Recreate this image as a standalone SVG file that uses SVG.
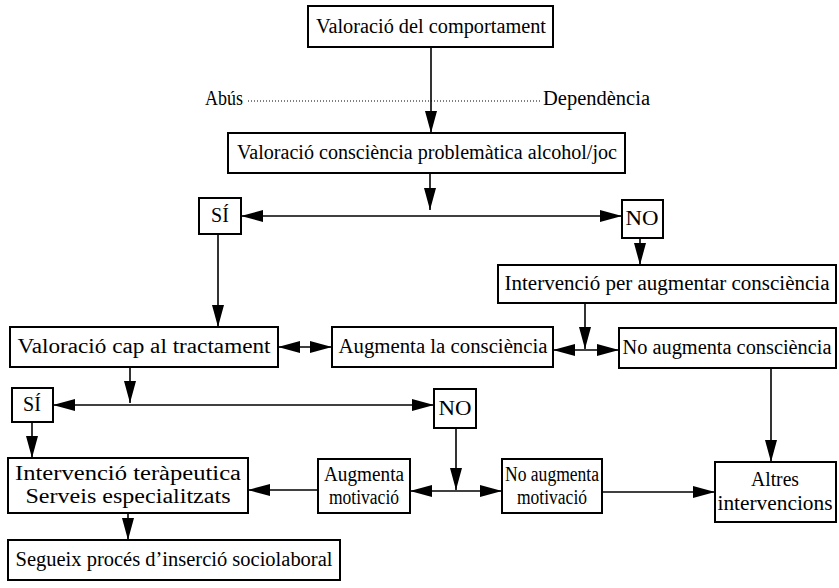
<svg xmlns="http://www.w3.org/2000/svg" width="839" height="588" viewBox="0 0 839 588">
  <style>
    .box { fill: #fff; stroke: #000; stroke-width: 2; }
    .lbl { font-family: "Liberation Serif", "Times New Roman", serif; font-size: 20px; fill: #000; text-anchor: middle; }
    .side { font-family: "Liberation Serif", "Times New Roman", serif; font-size: 20px; fill: #000; }
    .wire { fill: none; stroke: #000; stroke-width: 1.6; }
    .one { marker-end: url(#ah); }
    .two { marker-start: url(#ah); marker-end: url(#ah); }
  </style>
  <defs>
    <marker id="ah" viewBox="0 0 22 12" refX="22" refY="6" markerWidth="22" markerHeight="12" markerUnits="userSpaceOnUse" orient="auto-start-reverse">
      <path d="M0,0 L22,6 L0,12 Z" fill="#000"/>
    </marker>
  </defs>
  <rect width="839" height="588" fill="#fff"/>

  <!-- connectors -->
  <g id="connectors">
    <line class="wire one" x1="431" y1="47" x2="431" y2="133"/>
    <line x1="248" y1="101" x2="540" y2="101" stroke="#000" stroke-width="1" stroke-dasharray="1 2"/>
    <line class="wire one" x1="430" y1="173" x2="430" y2="210"/>
    <line class="wire two" x1="241" y1="216" x2="622" y2="216"/>
    <line class="wire one" x1="640" y1="238" x2="640" y2="265"/>
    <line class="wire one" x1="218" y1="234" x2="218" y2="327"/>
    <line class="wire two" x1="278" y1="347" x2="332" y2="347"/>
    <line class="wire one" x1="585" y1="303" x2="585" y2="349"/>
    <line class="wire two" x1="553" y1="350" x2="619" y2="350"/>
    <line class="wire one" x1="130" y1="367" x2="130" y2="403"/>
    <line class="wire two" x1="53" y1="405" x2="434" y2="405"/>
    <line class="wire one" x1="32" y1="422" x2="32" y2="458"/>
    <line class="wire one" x1="456" y1="428" x2="456" y2="490"/>
    <line class="wire two" x1="410" y1="491" x2="502" y2="491"/>
    <line class="wire one" x1="318" y1="490" x2="248" y2="490"/>
    <line class="wire one" x1="602" y1="492" x2="715" y2="492"/>
    <line class="wire one" x1="771" y1="368" x2="771" y2="462"/>
    <line class="wire one" x1="128" y1="513" x2="128" y2="540"/>
  </g>

  <!-- scale labels -->
  <g id="scale">
    <text class="side" x="205" y="105" textLength="38" lengthAdjust="spacingAndGlyphs">Abús</text>
    <text class="side" x="543" y="105" textLength="107" lengthAdjust="spacingAndGlyphs">Dependència</text>
  </g>

  <g id="n-comportament">
    <rect class="box" x="308" y="6" width="245" height="41"/>
    <text class="lbl" x="431" y="33" textLength="230" lengthAdjust="spacingAndGlyphs">Valoració del comportament</text>
  </g>
  <g id="n-consciencia">
    <rect class="box" x="228" y="133" width="397" height="40"/>
    <text class="lbl" x="427" y="159" textLength="380" lengthAdjust="spacingAndGlyphs">Valoració consciència problemàtica alcohol/joc</text>
  </g>
  <g id="n-si1">
    <rect class="box" x="199" y="198" width="42" height="36"/>
    <text class="lbl" x="220" y="222">SÍ</text>
  </g>
  <g id="n-no1">
    <rect class="box" x="622" y="200" width="41" height="38"/>
    <text class="lbl" x="642" y="225" textLength="33" lengthAdjust="spacingAndGlyphs">NO</text>
  </g>
  <g id="n-intervencio-augmentar">
    <rect class="box" x="498" y="265" width="338" height="38"/>
    <text class="lbl" x="667" y="290" textLength="325" lengthAdjust="spacingAndGlyphs">Intervenció per augmentar consciència</text>
  </g>
  <g id="n-valoracio-tractament">
    <rect class="box" x="10" y="327" width="268" height="40"/>
    <text class="lbl" x="144" y="353" textLength="253" lengthAdjust="spacingAndGlyphs">Valoració cap al tractament</text>
  </g>
  <g id="n-augmenta-consciencia">
    <rect class="box" x="332" y="327" width="221" height="40"/>
    <text class="lbl" x="443" y="353" textLength="209" lengthAdjust="spacingAndGlyphs">Augmenta la consciència</text>
  </g>
  <g id="n-no-augmenta-consciencia">
    <rect class="box" x="619" y="328" width="217" height="40"/>
    <text class="lbl" x="727" y="354" textLength="209" lengthAdjust="spacingAndGlyphs">No augmenta consciència</text>
  </g>
  <g id="n-si2">
    <rect class="box" x="12" y="388" width="41" height="34"/>
    <text class="lbl" x="32" y="411">SÍ</text>
  </g>
  <g id="n-no2">
    <rect class="box" x="434" y="389" width="42" height="39"/>
    <text class="lbl" x="455" y="415" textLength="33" lengthAdjust="spacingAndGlyphs">NO</text>
  </g>
  <g id="n-intervencio-terapeutica">
    <rect class="box" x="8" y="458" width="240" height="55"/>
    <text class="lbl" x="128" y="480" textLength="226" lengthAdjust="spacingAndGlyphs">Intervenció teràpeutica</text>
    <text class="lbl" x="128" y="503" textLength="205" lengthAdjust="spacingAndGlyphs">Serveis especialitzats</text>
  </g>
  <g id="n-augmenta-motivacio">
    <rect class="box" x="318" y="459" width="92" height="54"/>
    <text class="lbl" x="364" y="481" textLength="80" lengthAdjust="spacingAndGlyphs">Augmenta</text>
    <text class="lbl" x="364" y="504" textLength="70" lengthAdjust="spacingAndGlyphs">motivació</text>
  </g>
  <g id="n-no-augmenta-motivacio">
    <rect class="box" x="502" y="459" width="100" height="54"/>
    <text class="lbl" x="552" y="481" textLength="94" lengthAdjust="spacingAndGlyphs">No augmenta</text>
    <text class="lbl" x="552" y="504" textLength="70" lengthAdjust="spacingAndGlyphs">motivació</text>
  </g>
  <g id="n-altres">
    <rect class="box" x="715" y="462" width="121" height="60"/>
    <text class="lbl" x="775" y="486" textLength="48" lengthAdjust="spacingAndGlyphs">Altres</text>
    <text class="lbl" x="775" y="510" textLength="115" lengthAdjust="spacingAndGlyphs">intervencions</text>
  </g>
  <g id="n-segueix">
    <rect class="box" x="8" y="540" width="332" height="40"/>
    <text class="lbl" x="174" y="566" textLength="317" lengthAdjust="spacingAndGlyphs">Segueix procés d’inserció sociolaboral</text>
  </g>
</svg>
